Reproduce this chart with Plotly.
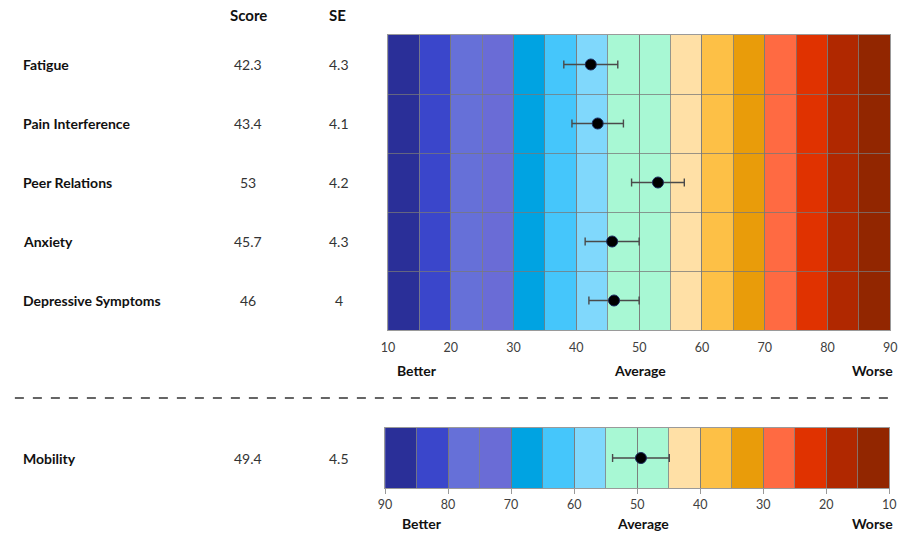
import plotly.graph_objects as go

# ---- data ----
domains = ["Fatigue", "Pain Interference", "Peer Relations", "Anxiety", "Depressive Symptoms"]
scores = [42.3, 43.4, 53, 45.7, 46]
se_vals = [4.3, 4.1, 4.2, 4.3, 4]

mob_domains = ["Mobility"]
mob_scores = [49.4]
mob_se = [4.5]

tick_vals = [10, 20, 30, 40, 50, 60, 70, 80, 90]
band_starts = [10, 15, 20, 25, 30, 35, 40, 45, 50, 55, 60, 65, 70, 75, 80, 85]
band_width = 5
band_colors = ["#2a2f98", "#3a46cb", "#6670d8", "#6a6cd6", "#00a3e2", "#45c6fb",
               "#80d8fc", "#a8f8d4", "#a8f8d4", "#ffe0a6", "#fdc046", "#e99c0a",
               "#ff6a42", "#e03200", "#b02800", "#922600"]
scale_words = ["Better", "Average", "Worse"]
headers = ["Score", "SE"]

W, H = 910, 535
FONT = "Lato"
px = lambda v: v / W
py = lambda v: 1 - v / H

fig = go.Figure()

err_style = dict(type="data", color="#4a4a4a", thickness=1.4, width=4)
mk = dict(size=11, color="black", line=dict(color="#1b2a5e", width=1))

fig.add_trace(go.Scatter(x=scores, y=list(range(len(domains))), mode="markers",
                         error_x=dict(array=se_vals, **err_style), marker=mk,
                         xaxis="x", yaxis="y", showlegend=False, hoverinfo="skip"))
fig.add_trace(go.Scatter(x=mob_scores, y=list(range(len(mob_domains))), mode="markers",
                         error_x=dict(array=mob_se, **err_style), marker=mk,
                         xaxis="x2", yaxis="y2", showlegend=False, hoverinfo="skip"))

shapes = []
n = len(band_starts)
for i, s in enumerate(band_starts):
    shapes.append(dict(type="rect", xref="x", yref="y domain", x0=s, x1=s + band_width,
                       y0=0, y1=1, fillcolor=band_colors[i], line=dict(width=0), layer="below"))
    # bottom scale is reversed (90 at left), colours follow position
    shapes.append(dict(type="rect", xref="x2", yref="y2 domain", x0=s, x1=s + band_width,
                       y0=0, y1=1, fillcolor=band_colors[n - 1 - i], line=dict(width=0), layer="below"))

# dashed separator
shapes.append(dict(type="line", xref="paper", yref="paper", x0=px(8), x1=px(903),
                   y0=py(398), y1=py(398), line=dict(color="#333333", width=1.5, dash="dash")))

annotations = []
name_font = dict(family=FONT, size=14, color="#111111")
head_font = dict(family=FONT, size=15, color="#111111")
num_font = dict(family=FONT, size=14, color="#333333")
bold = lambda t: "<b>" + t + "</b>"

for hx, h in zip([245, 336], headers):
    annotations.append(dict(x=px(hx), y=py(15), xref="paper", yref="paper", text=bold(h),
                            showarrow=False, font=head_font, xanchor="center", yanchor="middle"))

def row_text(names, sc, se, yref):
    for i, (nm, s, e) in enumerate(zip(names, sc, se)):
        annotations.append(dict(x=px(14), y=i, xref="paper", yref=yref, text=bold(nm),
                                showarrow=False, font=name_font, xanchor="left", yanchor="middle"))
        annotations.append(dict(x=px(245), y=i, xref="paper", yref=yref, text=str(s),
                                showarrow=False, font=num_font, xanchor="center", yanchor="middle"))
        annotations.append(dict(x=px(337), y=i, xref="paper", yref=yref, text=str(e),
                                showarrow=False, font=num_font, xanchor="center", yanchor="middle"))

row_text(domains, scores, se_vals, "y")
row_text(mob_domains, mob_scores, mob_se, "y2")

for yy, xs in [(370, [416, 643, 902]), (523, [421, 646, 902])]:
    for j, (w, xx) in enumerate(zip(scale_words, xs)):
        annotations.append(dict(x=px(xx), y=py(yy), xref="paper", yref="paper", text=bold(w),
                                showarrow=False, font=name_font,
                                xanchor=["center", "center", "right"][j], yanchor="middle"))

grid_c = "rgba(120,120,120,0.75)"
tickfont = dict(family=FONT, size=12.5, color="#404040")

fig.update_layout(
    width=W, height=H, autosize=False, margin=dict(l=0, r=0, t=0, b=0),
    paper_bgcolor="white", plot_bgcolor="white",
    shapes=shapes, annotations=annotations,
    xaxis=dict(domain=[px(387), px(897)], range=[10, 90], tickvals=tick_vals,
               showgrid=True, gridcolor=grid_c, gridwidth=1, zeroline=False,
               minor=dict(tickvals=band_starts, showgrid=True, gridcolor=grid_c, gridwidth=1),
               showline=True, linecolor=grid_c, mirror=True, ticks="", tickfont=tickfont,
               ticklabelstandoff=6, anchor="y", fixedrange=True),
    yaxis=dict(domain=[py(330), py(35)], range=[len(domains) - 0.5, -0.5],
               tickvals=[i - 0.5 for i in range(len(domains) + 1)], showticklabels=False,
               showgrid=True, gridcolor=grid_c, zeroline=False, ticks="",
               showline=True, linecolor=grid_c, mirror=True, anchor="x", fixedrange=True),
    xaxis2=dict(domain=[px(384), px(896)], range=[90, 10], tickvals=tick_vals,
                showgrid=True, gridcolor=grid_c, zeroline=False,
                minor=dict(tickvals=band_starts, showgrid=True, gridcolor=grid_c),
                showline=True, linecolor=grid_c, mirror=True, ticks="outside", ticklen=5,
                tickcolor=grid_c, tickfont=tickfont, anchor="y2", fixedrange=True),
    yaxis2=dict(domain=[py(488), py(428)], range=[0.5, -0.5], showticklabels=False,
                showgrid=False, zeroline=False, ticks="", showline=True, linecolor=grid_c,
                mirror=True, anchor="x2", fixedrange=True),
)

fig.write_html("out.html", config={"responsive": False, "displayModeBar": False},
               post_script="document.body.style.margin='0';")
